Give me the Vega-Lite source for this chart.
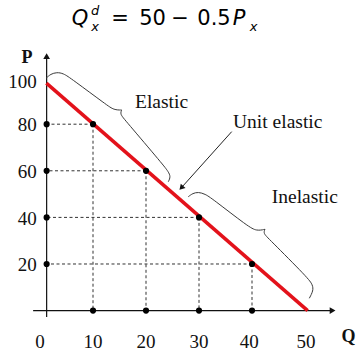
{
  "$schema": "https://vega.github.io/schema/vega-lite/v6.json",
  "width": 356,
  "height": 351,
  "autosize": {"type": "none"},
  "padding": 0,
  "background": "white",
  "config": {"view": {"stroke": null}},
  "datasets": {
    "pts": [{"q": 10, "p": 80}, {"q": 20, "p": 60}, {"q": 30, "p": 40}, {"q": 40, "p": 20}],
    "demand": [{"q": 1.2, "p": 97.6}, {"q": 50.5, "p": 0}],
    "xaxis": [{"q": -1.3, "p": 0}, {"q": 55.0, "p": 0}],
    "yaxis": [{"q": 1.25, "p": -2.8}, {"q": 1.25, "p": 108.5}],
    "xhead": [{"q": 55.2, "p": 0}],
    "yhead": [{"q": 1.25, "p": 109.2}],
    "arrowline": [{"q": 36.17, "p": 76.8}, {"q": 26.7, "p": 52.8}],
    "arrowhead": [{"q": 26.66, "p": 52.7}],
    "braces": [
      {"seg": "e1", "i": 0, "q": 1.13, "p": 99.7},
      {"seg": "e1", "i": 1, "q": 2.02, "p": 101.55},
      {"seg": "e1", "i": 2, "q": 3.15, "p": 102.27},
      {"seg": "e1", "i": 3, "q": 4.4, "p": 101.85},
      {"seg": "e1", "i": 4, "q": 5.98, "p": 99.4},
      {"seg": "e1", "i": 5, "q": 12.59, "p": 88.24},
      {"seg": "e1", "i": 6, "q": 13.96, "p": 86.09},
      {"seg": "e1", "i": 7, "q": 15.42, "p": 86.09},
      {"seg": "e2", "i": 0, "q": 15.42, "p": 86.09},
      {"seg": "e2", "i": 1, "q": 15.09, "p": 84.38},
      {"seg": "e2", "i": 2, "q": 16.04, "p": 81.8},
      {"seg": "e2", "i": 3, "q": 23.26, "p": 62.49},
      {"seg": "e2", "i": 4, "q": 24.21, "p": 59.61},
      {"seg": "e2", "i": 5, "q": 24.66, "p": 57.47},
      {"seg": "e2", "i": 6, "q": 24.21, "p": 55.32},
      {"seg": "n1", "i": 0, "q": 27.98, "p": 48.88},
      {"seg": "n1", "i": 1, "q": 28.81, "p": 50.34},
      {"seg": "n1", "i": 2, "q": 29.87, "p": 50.9},
      {"seg": "n1", "i": 3, "q": 31.13, "p": 50.04},
      {"seg": "n1", "i": 4, "q": 32.4, "p": 48.2},
      {"seg": "n1", "i": 5, "q": 39.3, "p": 36.01},
      {"seg": "n1", "i": 6, "q": 40.89, "p": 34.16},
      {"seg": "n1", "i": 7, "q": 42.45, "p": 34.89},
      {"seg": "n2", "i": 0, "q": 42.45, "p": 34.89},
      {"seg": "n2", "i": 1, "q": 42.13, "p": 33.18},
      {"seg": "n2", "i": 2, "q": 43.08, "p": 31.03},
      {"seg": "n2", "i": 3, "q": 50.62, "p": 13.86},
      {"seg": "n2", "i": 4, "q": 51.45, "p": 10.99},
      {"seg": "n2", "i": 5, "q": 51.57, "p": 8.54},
      {"seg": "n2", "i": 6, "q": 50.81, "p": 5.28}
    ],
    "xlabels": [
      {"t": "0", "q": 0, "p": -13.5},
      {"t": "10", "q": 10, "p": -13.5},
      {"t": "20", "q": 20, "p": -13.5},
      {"t": "30", "q": 30, "p": -13.5},
      {"t": "40", "q": 39.5, "p": -13.5},
      {"t": "50", "q": 50.2, "p": -13.5}
    ],
    "ylabels": [
      {"t": "100", "q": -0.6, "p": 98.3},
      {"t": "80", "q": -0.6, "p": 79.5},
      {"t": "60", "q": -0.6, "p": 59.5},
      {"t": "40", "q": -0.6, "p": 39.5},
      {"t": "20", "q": -0.6, "p": 19.5}
    ],
    "axisnames": [
      {"t": "P", "q": -2.45, "p": 108.6},
      {"t": "Q", "q": 58.2, "p": -11.2}
    ],
    "notes": [
      {"t": "Elastic", "q": 17.92, "p": 86.95},
      {"t": "Unit elastic", "q": 36.42, "p": 78.37},
      {"t": "Inelastic", "q": 43.72, "p": 46.18}
    ],
    "titleMain": [
      {"t": "=", "q": 15.09, "p": 122.58},
      {"t": "50", "q": 21.23, "p": 122.58},
      {"t": "−", "q": 26.42, "p": 122.58},
      {"t": "0.5", "q": 32.83, "p": 122.58}
    ],
    "titleItalic": [
      {"t": "Q", "q": 7.55, "p": 122.58},
      {"t": "P", "q": 37.55, "p": 122.58}
    ],
    "titleSup": [
      {"t": "d", "q": 10.38, "p": 126.7}
    ],
    "titleSub": [
      {"t": "x", "q": 10.38, "p": 120.0},
      {"t": "x", "q": 40.28, "p": 120.0}
    ]
  },
  "encoding": {
    "x": {"field": "q", "type": "quantitative", "scale": {"domain": [-7.55, 59.62], "nice": false, "zero": false}, "axis": null},
    "y": {"field": "p", "type": "quantitative", "scale": {"domain": [-17.34, 133.3], "nice": false, "zero": false}, "axis": null}
  },
  "layer": [
    {
      "data": {"name": "pts"},
      "mark": {"type": "rule", "color": "#333333", "strokeWidth": 1, "strokeDash": [3, 2.5]},
      "encoding": {"y2": {"datum": 0}}
    },
    {
      "data": {"name": "pts"},
      "mark": {"type": "rule", "color": "#333333", "strokeWidth": 1, "strokeDash": [3, 2.5]},
      "encoding": {"x2": {"datum": 1.25}}
    },
    {
      "data": {"name": "xaxis"},
      "mark": {"type": "line", "color": "#111111", "strokeWidth": 1.2},
      "encoding": {}
    },
    {
      "data": {"name": "yaxis"},
      "mark": {"type": "line", "color": "#111111", "strokeWidth": 1.2},
      "encoding": {}
    },
    {
      "data": {"name": "xhead"},
      "mark": {"type": "point", "shape": "triangle-right", "filled": true, "color": "#111111", "size": 45, "opacity": 1},
      "encoding": {}
    },
    {
      "data": {"name": "yhead"},
      "mark": {"type": "point", "shape": "triangle-up", "filled": true, "color": "#111111", "size": 45, "opacity": 1},
      "encoding": {}
    },
    {
      "data": {"name": "braces"},
      "mark": {"type": "line", "color": "#3a3a3a", "strokeWidth": 1, "interpolate": "basis"},
      "encoding": {"detail": {"field": "seg"}, "order": {"field": "i", "type": "quantitative"}}
    },
    {
      "data": {"name": "arrowline"},
      "mark": {"type": "line", "color": "#222222", "strokeWidth": 1},
      "encoding": {}
    },
    {
      "data": {"name": "arrowhead"},
      "mark": {"type": "point", "shape": "triangle-up", "filled": true, "color": "#111111", "size": 40, "angle": 222, "opacity": 1},
      "encoding": {}
    },
    {
      "data": {"name": "demand"},
      "mark": {"type": "line", "color": "#e3121b", "strokeWidth": 3.5},
      "encoding": {}
    },
    {
      "data": {"name": "pts"},
      "mark": {"type": "circle", "color": "#000000", "size": 38, "opacity": 1},
      "encoding": {}
    },
    {
      "data": {"name": "pts"},
      "mark": {"type": "circle", "color": "#000000", "size": 38, "opacity": 1},
      "encoding": {"y": {"datum": 0, "scale": {"domain": [-17.34, 133.3], "nice": false, "zero": false}}}
    },
    {
      "data": {"name": "pts"},
      "mark": {"type": "circle", "color": "#000000", "size": 38, "opacity": 1},
      "encoding": {"x": {"datum": 1.25, "scale": {"domain": [-7.55, 59.62], "nice": false, "zero": false}}}
    },
    {
      "data": {"name": "xlabels"},
      "mark": {"type": "text", "font": "Liberation Serif", "fontSize": 19, "color": "#111111", "align": "center", "baseline": "middle"},
      "encoding": {"text": {"field": "t"}}
    },
    {
      "data": {"name": "ylabels"},
      "mark": {"type": "text", "font": "Liberation Serif", "fontSize": 19, "color": "#111111", "align": "right", "baseline": "middle"},
      "encoding": {"text": {"field": "t"}}
    },
    {
      "data": {"name": "axisnames"},
      "mark": {"type": "text", "font": "Liberation Serif", "fontSize": 18, "fontWeight": "bold", "color": "#111111", "align": "center", "baseline": "middle"},
      "encoding": {"text": {"field": "t"}}
    },
    {
      "data": {"name": "notes"},
      "mark": {"type": "text", "font": "Liberation Serif", "fontSize": 19.5, "color": "#111111", "align": "left", "baseline": "alphabetic"},
      "encoding": {"text": {"field": "t"}}
    },
    {
      "data": {"name": "titleMain"},
      "mark": {"type": "text", "font": "DejaVu Sans", "fontSize": 21, "color": "#000000", "align": "center", "baseline": "alphabetic"},
      "encoding": {"text": {"field": "t"}}
    },
    {
      "data": {"name": "titleItalic"},
      "mark": {"type": "text", "font": "DejaVu Sans", "fontSize": 21, "fontStyle": "italic", "color": "#000000", "align": "center", "baseline": "alphabetic"},
      "encoding": {"text": {"field": "t"}}
    },
    {
      "data": {"name": "titleSup"},
      "mark": {"type": "text", "font": "DejaVu Sans", "fontSize": 13, "fontStyle": "italic", "color": "#000000", "align": "center", "baseline": "alphabetic"},
      "encoding": {"text": {"field": "t"}}
    },
    {
      "data": {"name": "titleSub"},
      "mark": {"type": "text", "font": "DejaVu Sans", "fontSize": 13, "fontStyle": "italic", "color": "#000000", "align": "center", "baseline": "alphabetic"},
      "encoding": {"text": {"field": "t"}}
    }
  ]
}
